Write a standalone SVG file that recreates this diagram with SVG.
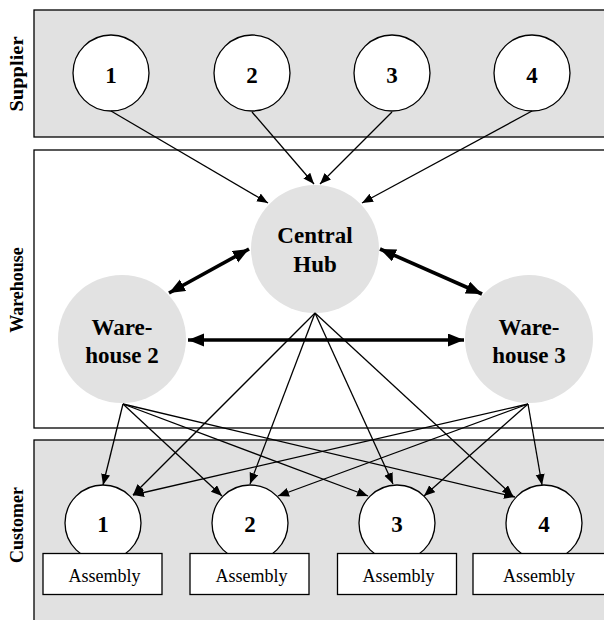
<svg xmlns="http://www.w3.org/2000/svg" width="604" height="620" viewBox="0 0 604 620">
<style>
.band{fill:#e1e1e1;stroke:#000;stroke-width:1.3}
.band2{fill:#fff;stroke:#000;stroke-width:1.3}
.wc{fill:#fff;stroke:#000;stroke-width:1.3}
.gc{fill:#e2e2e2;stroke:none}
.box{fill:#fff;stroke:#000;stroke-width:1.3}
.lbl{font-family:"Liberation Serif","Times New Roman",serif;font-weight:bold;font-size:18px;text-anchor:middle}
.num{font-family:"Liberation Serif","Times New Roman",serif;font-weight:bold;font-size:23px;text-anchor:middle}
.asm{font-family:"Liberation Serif","Times New Roman",serif;font-size:18px;text-anchor:middle}
.thin{stroke:#000;stroke-width:1.3;fill:none;marker-end:url(#ah)}
.thick{stroke:#000;stroke-width:3.6;fill:none;marker-start:url(#ahT);marker-end:url(#ahT)}
</style>
<defs>
<marker id="ah" markerUnits="userSpaceOnUse" markerWidth="12" markerHeight="10" refX="11" refY="4.5" orient="auto"><path d="M0,0 L11,4.5 L0,9 z" fill="#000"/></marker>
<marker id="ahT" markerUnits="userSpaceOnUse" markerWidth="17" markerHeight="14" refX="16" refY="6.5" orient="auto-start-reverse"><path d="M0,0 L16,6.5 L0,13 z" fill="#000"/></marker>
</defs>
<g id="bands">
<rect class="band" x="34" y="10" width="590" height="127"/>
<rect class="band2" x="34" y="150" width="590" height="278"/>
<rect class="band" x="34" y="440" width="590" height="200"/>
<text class="lbl" transform="translate(23,74) rotate(-90)" textLength="75" lengthAdjust="spacingAndGlyphs">Supplier</text>
<text class="lbl" transform="translate(23,290) rotate(-90)">Warehouse</text>
<text class="lbl" transform="translate(23,525) rotate(-90)">Customer</text>
</g>
<g id="supplier1"><circle class="wc" cx="111" cy="73" r="38"/><text class="num" x="111" y="83">1</text></g>
<g id="supplier2"><circle class="wc" cx="252" cy="73" r="38"/><text class="num" x="252" y="83">2</text></g>
<g id="supplier3"><circle class="wc" cx="392" cy="73" r="38"/><text class="num" x="392" y="83">3</text></g>
<g id="supplier4"><circle class="wc" cx="532" cy="73" r="38"/><text class="num" x="532" y="83">4</text></g>
<g id="hub"><circle class="gc" cx="315" cy="249" r="64"/><text class="num" x="315" y="243">Central</text><text class="num" x="315" y="272">Hub</text></g>
<g id="warehouse2"><circle class="gc" cx="122" cy="339" r="64"/><text class="num" x="122" y="335">Ware-</text><text class="num" x="122" y="363">house 2</text></g>
<g id="warehouse3"><circle class="gc" cx="529" cy="339" r="64"/><text class="num" x="529" y="335">Ware-</text><text class="num" x="529" y="363">house 3</text></g>
<g id="customer1"><circle class="wc" cx="103" cy="523" r="38"/><text class="num" x="103" y="532">1</text></g>
<g id="customer2"><circle class="wc" cx="250" cy="523" r="38"/><text class="num" x="250" y="532">2</text></g>
<g id="customer3"><circle class="wc" cx="397" cy="523" r="38"/><text class="num" x="397" y="532">3</text></g>
<g id="customer4"><circle class="wc" cx="544" cy="523" r="38"/><text class="num" x="544" y="532">4</text></g>
<g id="assembly1"><rect class="box" x="43" y="553.5" width="119" height="41"/><text class="asm" x="104.5" y="582">Assembly</text></g>
<g id="assembly2"><rect class="box" x="190" y="553.5" width="119" height="41"/><text class="asm" x="251.5" y="582">Assembly</text></g>
<g id="assembly3"><rect class="box" x="337.5" y="553.5" width="119" height="41"/><text class="asm" x="398.5" y="582">Assembly</text></g>
<g id="assembly4"><rect class="box" x="473" y="553.5" width="140" height="41"/><text class="asm" x="539" y="582">Assembly</text></g>
<g id="connectors">
<line class="thin" x1="111" y1="111" x2="268" y2="203"/>
<line class="thin" x1="252" y1="112" x2="314" y2="184"/>
<line class="thin" x1="392" y1="112" x2="320" y2="184"/>
<line class="thin" x1="532" y1="111" x2="362" y2="203"/>
<line class="thick" x1="249" y1="249" x2="169" y2="293"/>
<line class="thick" x1="380" y1="249" x2="482" y2="294"/>
<line class="thick" x1="188" y1="340" x2="464" y2="340"/>
<line class="thin" x1="315" y1="313" x2="133" y2="495"/>
<line class="thin" x1="315" y1="313" x2="250" y2="484"/>
<line class="thin" x1="315" y1="313" x2="393" y2="484"/>
<line class="thin" x1="315" y1="313" x2="513" y2="496"/>
<line class="thin" x1="123" y1="404" x2="103" y2="485"/>
<line class="thin" x1="123" y1="404" x2="222" y2="496"/>
<line class="thin" x1="123" y1="404" x2="368" y2="496"/>
<line class="thin" x1="123" y1="404" x2="515" y2="497"/>
<line class="thin" x1="528" y1="404" x2="133" y2="495"/>
<line class="thin" x1="528" y1="404" x2="278" y2="496"/>
<line class="thin" x1="528" y1="404" x2="424" y2="496"/>
<line class="thin" x1="528" y1="404" x2="542" y2="485"/>
</g>
</svg>
